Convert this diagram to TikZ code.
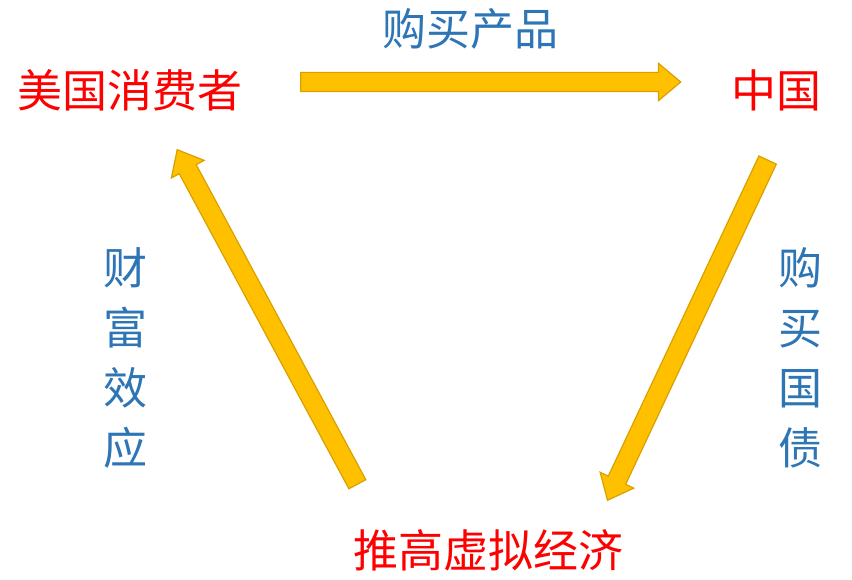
\documentclass[tikz,border=0pt]{standalone}
\usepackage{fontspec}
\newfontfamily\cjk{Noto Sans CJK SC}
\usetikzlibrary{shapes.arrows}
\definecolor{arrowfill}{HTML}{FFC000}
\definecolor{arrowline}{HTML}{D9A000}
\definecolor{labelblue}{HTML}{2E75B6}
\tikzset{
	party/.style={text=red, font=\cjk\fontsize{45}{50}\selectfont, inner sep=0pt},
	deal/.style={text=labelblue, font=\cjk\fontsize{44}{60}\selectfont, inner sep=0pt, align=center},
	flow/.style={single arrow, draw=arrowline, fill=arrowfill, line width=1.2pt,
		inner xsep=0pt, inner ysep=9pt, single arrow head extend=9pt,
		single arrow tip angle=80, anchor=center}
}
\begin{document}
\begin{tikzpicture}[x=1pt, y=1pt]
	\useasboundingbox (0,0) rectangle (852,580);
	\node[party] (consumer) at (130, 490) {美国消费者};
	\node[party] (china) at (776, 490) {中国};
	\node[party] (bubble) at (488, 30) {推高虚拟经济};
	
	\node[deal] (goods) at (470, 551) {购买产品};
	\node[deal, text width=48pt] (wealth) at (125, 222) {财\\富\\效\\应};
	\node[deal, text width=48pt] (bonds) at (800, 222) {购\\买\\国\\债};
	
	\node[flow, minimum height=380pt] (top) at (485, 498) {};
	\node[flow, minimum height=376pt, rotate=244.8] (right) at (690, 255) {};
	\node[flow, minimum height=380pt, rotate=118.3] (left) at (270, 258) {};
\end{tikzpicture}
\end{document}
